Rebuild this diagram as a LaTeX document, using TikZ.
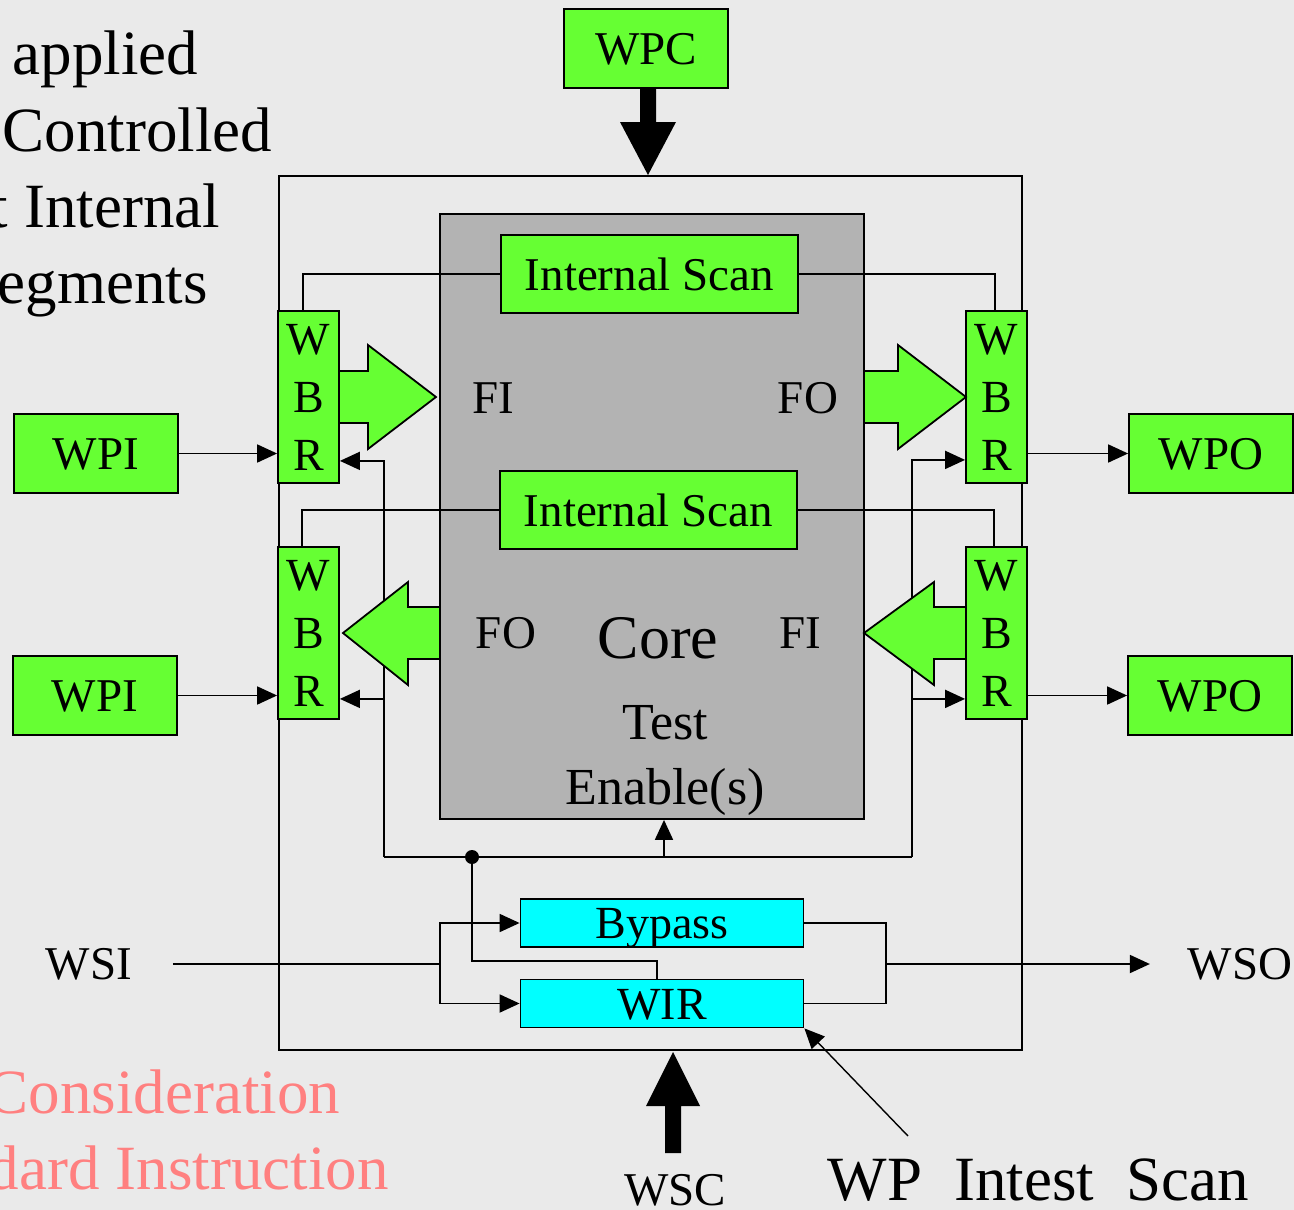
\documentclass[tikz,border=0pt]{standalone}
\usepackage{fontspec}
\setmainfont{Liberation Serif}
\usetikzlibrary{positioning, arrows.meta, calc}

\definecolor{wpgreen}{RGB}{102,255,51}
\definecolor{wircyan}{RGB}{0,255,255}
\definecolor{coregray}{RGB}{179,179,179}
\definecolor{slidebg}{RGB}{234,234,234}
\definecolor{notepink}{RGB}{255,128,128}

\begin{document}
\begin{tikzpicture}[
    x=1pt, y=-1pt,
    line width=1.8pt,
    >={Triangle[length=20pt,width=18pt]},
    sig/.style={->},
    txt/.style={inner sep=0pt, font=\fontsize{47}{56}\selectfont},
    bigtxt/.style={inner sep=0pt, font=\fontsize{63}{76}\selectfont},
    tetxt/.style={inner sep=0pt, font=\fontsize{52}{64}\selectfont},
    greenbox/.style={draw, fill=wpgreen, inner sep=0pt, minimum width=164pt, minimum height=79pt,
      text height=32pt, text depth=0pt, font=\fontsize{47}{56}\selectfont},
    scanbox/.style={greenbox, minimum width=297pt, minimum height=78pt},
    wbrbox/.style={draw, fill=wpgreen, inner sep=0pt, minimum width=61pt, minimum height=172pt,
      align=center, font=\fontsize{46}{58}\selectfont},
    cyanbox/.style={draw, fill=wircyan, inner sep=0pt, minimum width=283pt, minimum height=48pt,
      text height=31pt, text depth=0pt, font=\fontsize{46}{56}\selectfont},
    fat/.style={draw, fill=wpgreen, line join=miter},
  ]

  % --- fundo ---
  \fill[slidebg] (0,0) rectangle (1294,1210);
  \useasboundingbox (0,0) rectangle (1294,1210);
  \clip (0,0) rectangle (1294,1210);

  % --- texto do slide (cortado na margem) ---
  \node[bigtxt, anchor=base west] (noteA) at (12,74) {applied};
  \node[bigtxt, anchor=base west] (noteB) at (2,151) {Controlled};
  \node[bigtxt, anchor=base west] (noteC) at (-10,227) {t Internal};
  \node[bigtxt, anchor=base west] (noteD) at (-3,303) {egments};
  \node[bigtxt, anchor=base west, text=notepink] (noteE) at (-14,1113) {Consideration};
  \node[bigtxt, anchor=base west, text=notepink] (noteF) at (-13,1189) {dard Instruction};

  % --- wrapper e core ---
  \node[draw, inner sep=0pt, minimum width=743pt, minimum height=874pt] (wrap) at (650.5,613) {};
  \node[draw, fill=coregray, inner sep=0pt, minimum width=424pt, minimum height=605pt] (core) at (652,516.5) {};

  \node[scanbox] (scanA) at (649.5,274) {Internal Scan};
  \node[scanbox] (scanB) at (648.5,510) {Internal Scan};

  \node[txt] (fiA) at (493,398) {FI};
  \node[txt] (foA) at (808,398) {FO};
  \node[txt] (foB) at (506,633) {FO};
  \node[txt] (fiB) at (800,633) {FI};
  \node[inner sep=0pt, font=\fontsize{62}{74}\selectfont] (corelbl) at (658,638) {Core};
  \node[tetxt, anchor=base] (teA) at (665,739) {Test};
  \node[tetxt, anchor=base] (teB) at (665,804) {Enable(s)};

  % --- terminais ---
  \node[greenbox] (wpc) at (646,48.5) {WPC};
  \node[greenbox] (wpiA) at (96,453.5) {WPI};
  \node[greenbox] (wpiB) at (95,695.5) {WPI};
  \node[greenbox] (wpoA) at (1211,453.5) {WPO};
  \node[greenbox] (wpoB) at (1210,695.5) {WPO};

  \node[txt] (wsi) at (89,964) {WSI};
  \node[txt] (wso) at (1240,964) {WSO};
  \node[txt, anchor=base] (wsc) at (675,1205) {WSC};
  \node[bigtxt, anchor=base west] (wpnote) at (827,1200) {WP\hspace{32pt}Intest\hspace{32pt}Scan};

  \node[cyanbox] (bypass) at (662,923) {Bypass};
  \node[cyanbox] (wir) at (662,1003.5) {WIR};

  % --- cadeias de scan ---
  \draw (scanA.west) -| (303,311);
  \draw (scanA.east) -| (995,311);
  \draw (scanB.west) -| (302,547);
  \draw (scanB.east) -| (994,547);

  % --- test enable ---
  \node[wbrbox] (wbrLA) at (308.5,397) {W\\B\\R};
  \node[wbrbox] (wbrLB) at (308.5,633) {W\\B\\R};
  \node[wbrbox] (wbrRA) at (996.5,397) {W\\B\\R};
  \node[wbrbox] (wbrRB) at (996.5,633) {W\\B\\R};

  \coordinate (teL) at (384,857);
  \coordinate (teR) at (912,857);
  \coordinate (tj) at (472,857);
  \coordinate (teUp) at ([xshift=12pt]core.south);
  \coordinate (rLA) at ([yshift=23pt]wbrLA.south east);
  \coordinate (rLB) at ([yshift=21pt]wbrLB.south east);
  \coordinate (rRA) at ([yshift=24pt]wbrRA.south west);
  \coordinate (rRB) at ([yshift=21pt]wbrRB.south west);

  \draw (teL) -- (teR);
  \draw[sig] (teL) |- (rLA);
  \draw[sig] (teL |- rLB) -- (rLB);
  \draw[sig] (teR) |- (rRA);
  \draw[sig] (teR |- rRB) -- (rRB);
  \draw[sig] (teUp |- teL) -- (teUp);
  \fill (tj) circle (7pt);
  \draw (tj) -- (tj |- 0,961) -| ([xshift=-5pt]wir.north);

  % --- entradas e saidas funcionais ---
  \draw[sig] (wpiA.east) -- (wpiA.east -| wbrLA.west);
  \draw[sig] (wpiB.east) -- (wpiB.east -| wbrLB.west);
  \draw[sig] (wbrRA.east |- wpoA.west) -- (wpoA.west);
  \draw[sig] (wbrRB.east |- wpoB.west) -- (wpoB.west);

  % setas largas FI / FO
  \filldraw[fat] (339,371) -- (368,371) -- (368,345) -- (436,397) -- (368,449) -- (368,423) -- (339,423) -- cycle;
  \filldraw[fat] (864,371) -- (898,371) -- (898,345) -- (966,397) -- (898,449) -- (898,423) -- (864,423) -- cycle;
  \filldraw[fat] (440,607) -- (408,607) -- (408,582) -- (343,633) -- (408,685) -- (408,659) -- (440,659) -- cycle;
  \filldraw[fat] (966,607) -- (934,607) -- (934,582) -- (864,633) -- (934,685) -- (934,659) -- (966,659) -- cycle;

  % --- WPC / WSC ---
  \fill (640,88) -- (656,88) -- (656,122) -- (676,122) -- (648,175) -- (620,122) -- (640,122) -- cycle;
  \fill (665,1153) -- (681,1153) -- (681,1106) -- (700,1106) -- (673,1052) -- (646,1106) -- (665,1106) -- cycle;

  % --- caminho serial WSI -> WSO ---
  \coordinate (fork) at (440,964);
  \coordinate (join) at (886,964);
  \draw[shorten <=40pt] (wsi.east) -- (fork);
  \draw[sig] (fork) |- (bypass.west);
  \draw[sig] (fork) |- (wir.west);
  \draw (bypass.east) -| (join) |- (wir.east);
  \draw[sig, shorten >=37pt] (join) -- (wso.west);

  \coordinate (wpTail) at (908,1136);
  \draw[sig, line width=1.4pt] (wpTail) -- (wir.south east);

\end{tikzpicture}
\end{document}
